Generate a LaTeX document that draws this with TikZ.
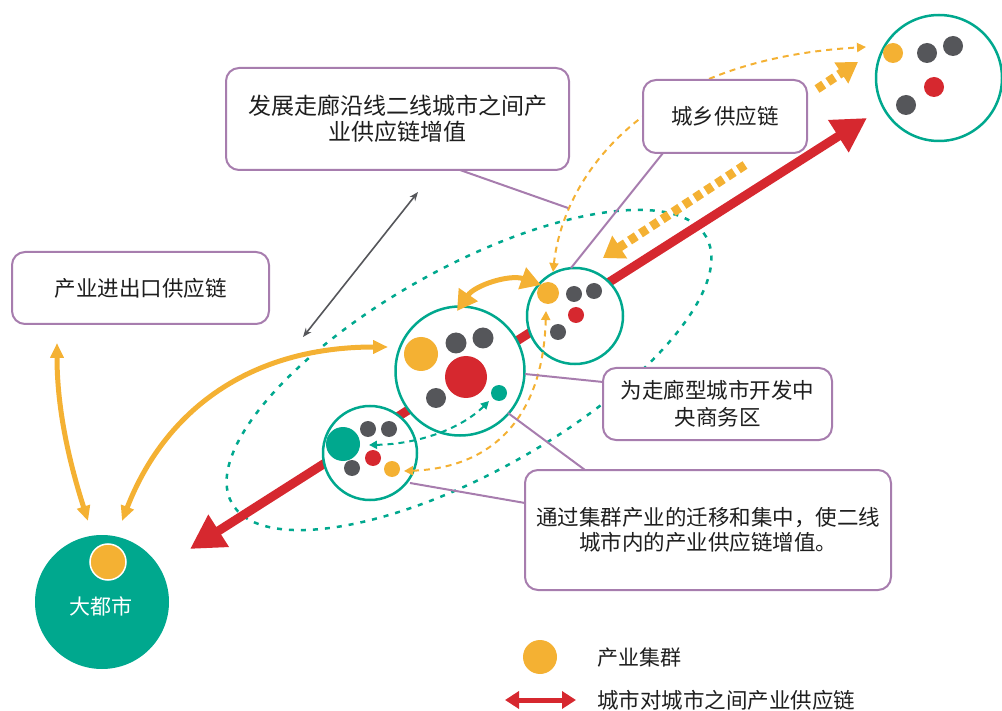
\documentclass[tikz,border=0pt]{standalone}
\usepackage{fontspec}
\newfontfamily\cjk{Noto Sans CJK SC}
\usetikzlibrary{arrows.meta}
\definecolor{tealc}{HTML}{00A88E}
\definecolor{orangec}{HTML}{F4B133}
\definecolor{redc}{HTML}{D6282F}
\definecolor{greyc}{HTML}{55565A}
\definecolor{purplec}{HTML}{A77DAE}
\definecolor{textc}{HTML}{1E1E1E}
\begin{document}
\begin{tikzpicture}[x=1pt,y=-1pt,
  box/.style={draw=purplec, line width=2pt, rounded corners=13pt, fill=white, align=center, text=textc, font=\cjk\fontsize{21.5}{27}\selectfont, inner sep=0pt},
  ring/.style={circle, draw=tealc, line width=2.5pt, fill=white, inner sep=0pt},
  dot/.style={circle, inner sep=0pt, minimum size=#1},
  link/.style={draw=purplec, line width=2pt},
  ell/.style={draw=tealc, line width=2.5pt, dash pattern=on 5pt off 7pt},
  thindash/.style={draw=orangec, line width=2pt, dash pattern=on 6pt off 5pt, {Triangle[length=9pt,width=9pt]}-{Triangle[length=9pt,width=9pt]}},
  thickdash/.style={draw=orangec, line width=9pt, dash pattern=on 8pt off 5pt, -{Triangle[length=20pt,width=26pt]}},
  flow/.style={draw=orangec, line width=5pt, {Triangle[length=15pt,width=13pt]}-{Triangle[length=15pt,width=13pt]}}
]
\useasboundingbox (0,0) rectangle (1002,711);

% big dashed ellipse (corridor)
\draw[ell, rotate around={29.3:(469,370)}] (469,370) ellipse [x radius=272pt, y radius=102pt];

% red city-to-city arrow
\coordinate (redA) at (190,549);
\coordinate (redB) at (867,118);
\draw[draw=redc, line width=9pt, {Triangle[length=34pt,width=36pt]}-{Triangle[length=34pt,width=36pt]}] (redA) -- (redB);

% thick dashed orange arrows
\coordinate (tdA) at (745,165);
\coordinate (tdB) at (603,258);
\coordinate (tdC) at (817,89);
\coordinate (tdD) at (858,62);
\draw[thickdash] (tdA) -- (tdB);
\draw[thickdash, -{Triangle[length=20pt,width=24pt]}] (tdC) -- (tdD);

% metropolis
\node[circle, fill=tealc, minimum size=134pt, inner sep=0pt] (city) at (102,602) {};
\node[dot=36pt, fill=orangec, draw=white, line width=1.5pt] (cityd) at (108,562) {};
\node[text=white, font=\cjk\fontsize{21}{25}\selectfont] (citytxt) at (101,606) {大都市};

% city circles
\node[ring, minimum size=129pt] (mid) at (460,371) {};
\node[ring, minimum size=96pt] (rgt) at (575,316) {};
\node[ring, minimum size=94pt] (low) at (370,453) {};
\node[ring, minimum size=126pt] (top) at (939,78) {};

% dots in middle circle
\node[dot=34pt, fill=orangec] (m1) at (421,354) {};
\node[dot=21pt, fill=greyc] (m2) at (456,343) {};
\node[dot=21pt, fill=greyc] (m3) at (483,338) {};
\node[dot=42pt, fill=redc] (m4) at (466,377) {};
\node[dot=20pt, fill=greyc] (m5) at (436,398) {};
\node[dot=16pt, fill=tealc] (m6) at (499,393) {};

% dots in right circle
\node[dot=22pt, fill=orangec] (r1) at (548,293) {};
\node[dot=16pt, fill=greyc] (r2) at (574,294) {};
\node[dot=16pt, fill=greyc] (r3) at (594,291) {};
\node[dot=16pt, fill=redc] (r4) at (576,315) {};
\node[dot=16pt, fill=greyc] (r5) at (558,332) {};

% dots in lower circle
\node[dot=34pt, fill=tealc] (l1) at (343,444) {};
\node[dot=16pt, fill=greyc] (l2) at (368,429) {};
\node[dot=16pt, fill=greyc] (l3) at (389,429) {};
\node[dot=16pt, fill=redc] (l4) at (373,458) {};
\node[dot=16pt, fill=greyc] (l5) at (352,468) {};
\node[dot=16pt, fill=orangec] (l6) at (392,469) {};

% dots in top circle
\node[dot=20pt, fill=orangec] (t1) at (893,53) {};
\node[dot=20pt, fill=greyc] (t2) at (927,53) {};
\node[dot=20pt, fill=greyc] (t3) at (953,46) {};
\node[dot=20pt, fill=redc] (t4) at (934,87) {};
\node[dot=20pt, fill=greyc] (t5) at (906,105) {};

% thin dashed flows
\coordinate (c1a) at (553,272);
\coordinate (c1b) at (866,47);
\draw[thindash] (c1a) .. controls (563,180) and (640,60) .. (c1b);
\coordinate (c2a) at (546,311);
\coordinate (c2b) at (404,471);
\draw[thindash] (c2a) .. controls (543,420) and (490,468) .. (c2b);
\coordinate (c3a) at (369,445);
\coordinate (c3b) at (489,401);
\draw[draw=tealc, line width=2pt, dash pattern=on 6pt off 5pt, {Triangle[length=8pt,width=8pt]}-{Triangle[length=8pt,width=8pt]}] (c3a) .. controls (420,444) and (462,428) .. (c3b);

% solid orange flows
\coordinate (a1a) at (57,343);
\coordinate (a1b) at (88,521);
\draw[flow] (a1a) .. controls (57,420) and (75,480) .. (a1b);
\coordinate (a2a) at (122,521);
\coordinate (a2b) at (388,347);
\draw[flow] (a2a) .. controls (165,410) and (250,347) .. (a2b);
\coordinate (a3a) at (457,311);
\coordinate (a3b) at (541,285);
\draw[flow, {Triangle[length=20pt,width=22pt]}-{Triangle[length=20pt,width=22pt]}] (a3a) .. controls (475,285) and (510,274) .. (a3b);

% grey arrow
\coordinate (g1) at (418,192);
\coordinate (g2) at (303,337);
\draw[draw=greyc, line width=1.6pt, {Stealth[length=9pt,width=7pt]}-{Stealth[length=9pt,width=7pt]}] (g1) -- (g2);

% purple callout lines
\coordinate (p1a) at (460,170);
\coordinate (p1b) at (568,208);
\draw[link] (p1a) -- (p1b);
\coordinate (p2a) at (663,153);
\coordinate (p2b) at (571,268);
\draw[link] (p2a) -- (p2b);
\coordinate (p3a) at (603,382);
\coordinate (p3b) at (525,374);
\draw[link] (p3a) -- (p3b);
\coordinate (p4a) at (508,413);
\coordinate (p4b) at (585,470);
\draw[link] (p4a) -- (p4b);
\coordinate (p5a) at (410,483);
\coordinate (p5b) at (525,503);
\draw[link] (p5a) -- (p5b);

% boxes
\node[box, minimum width=257pt, minimum height=72pt] (b1) at (140.5,288) {产业进出口供应链};
\node[box, minimum width=343pt, minimum height=102pt, font=\cjk\fontsize{23}{26}\selectfont] (b2) at (397.5,119) {发展走廊沿线二线城市之间产\\业供应链增值};
\node[box, minimum width=164pt, minimum height=73pt] (b3) at (725,116.5) {城乡供应链};
\node[box, minimum width=229pt, minimum height=72pt] (b4) at (717.5,404) {为走廊型城市开发中\\央商务区};
\node[box, minimum width=366pt, minimum height=120pt, font=\cjk\fontsize{21.5}{24.5}\selectfont] (b5) at (708,530) {通过集群产业的迁移和集中，使二线\\城市内的产业供应链增值。};

% legend
\node[dot=34pt, fill=orangec] (lg1) at (540,657) {};
\node[anchor=west, text=textc, font=\cjk\fontsize{21}{25}\selectfont, inner sep=0pt] (lg1t) at (597,658) {产业集群};
\coordinate (lg2a) at (505,700);
\coordinate (lg2b) at (576,700);
\draw[draw=redc, line width=5pt, {Triangle[length=14pt,width=17pt]}-{Triangle[length=14pt,width=17pt]}] (lg2a) -- (lg2b);
\node[anchor=west, text=textc, font=\cjk\fontsize{21.5}{25}\selectfont, inner sep=0pt] (lg2t) at (597,700) {城市对城市之间产业供应链};
\end{tikzpicture}
\end{document}
